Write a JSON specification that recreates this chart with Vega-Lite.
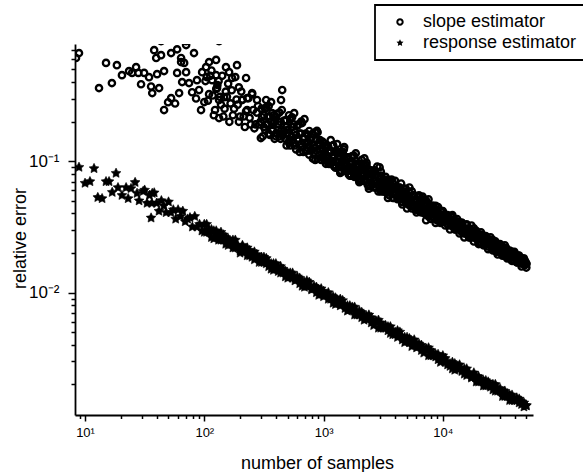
{
"$schema":"https://vega.github.io/schema/vega-lite/v6.json",
"width":458,"height":371,
"autosize":{"type":"none"},
"padding":{"left":75,"top":44,"right":50,"bottom":57},
"background":"white",
"datasets":{
"s":[
{"n":8.9,"e":0.665},{"n":8.4,"e":0.61},{"n":15,"e":0.56},{"n":13.1,"e":0.36},{"n":16.8,"e":0.393},{"n":18.5,"e":0.538},{"n":20.4,"e":0.452},{"n":23.4,"e":0.485},{"n":24.8,"e":0.47},{"n":26.8,"e":0.52},{"n":28,"e":0.47},{"n":31.3,"e":0.47},{"n":29.5,"e":0.385},{"n":34.4,"e":0.436},{"n":35.8,"e":0.37},{"n":36.6,"e":0.33},{"n":40.2,"e":0.46},{"n":41.8,"e":0.36},{"n":46,"e":0.485},{"n":46,"e":0.245},{"n":49.7,"e":0.281},{"n":52.7,"e":0.302},{"n":56.9,"e":0.275},{"n":59.2,"e":0.71},{"n":52.7,"e":0.665},{"n":38,"e":0.7},{"n":39.5,"e":0.61},{"n":43.4,"e":0.641},{"n":70.4,"e":0.765},{"n":82,"e":0.665},{"n":63.9,"e":0.61},{"n":67.8,"e":0.56},{"n":61.5,"e":0.33},{"n":59.2,"e":0.47},{"n":70.4,"e":0.476},{"n":74.5,"e":0.393},{"n":86.8,"e":0.414},{"n":90.4,"e":0.348},{"n":93.9,"e":0.245},{"n":85.3,"e":0.3},{"n":79,"e":0.335},{"n":65.2,"e":0.4},{"n":63.9,"e":0.568},{"n":43.4,"e":0.82},{"n":70.4,"e":0.82},{"n":133,"e":0.82},
{"n":95.9,"e":0.476},{"n":103.5,"e":0.52},{"n":109.7,"e":0.568},{"n":125.6,"e":0.59},{"n":116.2,"e":0.414},{"n":125.6,"e":0.452},{"n":128,"e":0.36},{"n":133,"e":0.292},{"n":133,"e":0.213},{"n":146.5,"e":0.307},{"n":152,"e":0.52},{"n":161.5,"e":0.476},{"n":171,"e":0.43},{"n":188,"e":0.538},{"n":195,"e":0.365},{"n":207.5,"e":0.292},{"n":224,"e":0.43},{"n":228.5,"e":0.245},{"n":252,"e":0.33},{"n":277,"e":0.292},{"n":305,"e":0.216},{"n":298,"e":0.15},{"n":330,"e":0.292},{"n":370,"e":0.232},{"n":400,"e":0.163},{"n":450,"e":0.348},{"n":440,"e":0.292},{"n":486,"e":0.205},{"n":516,"e":0.144},{"n":545,"e":0.216},
{"n":567,"e":0.232},{"n":650,"e":0.2},{"n":880,"e":0.17},{"n":1300,"e":0.135},{"n":1490,"e":0.128},{"n":1800,"e":0.11},{"n":2200,"e":0.105},{"n":2950,"e":0.09},
{"n":100,"e":0.282},{"n":104.7,"e":0.4365},{"n":109.6,"e":0.3236},{"n":114.8,"e":0.4898},{"n":120.2,"e":0.2239},{"n":125.9,"e":0.3548},{"n":131.8,"e":0.4074},{"n":138,"e":0.2692},{"n":144.5,"e":0.2188},{"n":151.4,"e":0.3388},{"n":158.5,"e":0.389},{"n":166,"e":0.2754},{"n":173.8,"e":0.2239},{"n":182,"e":0.4365},{"n":190.5,"e":0.2692},{"n":199.5,"e":0.2188},{"n":208.9,"e":0.2951},{"n":218.8,"e":0.182},{"n":229.1,"e":0.302},{"n":239.9,"e":0.2138},{"n":251.2,"e":0.3236},{"n":263,"e":0.1778},{"n":275.4,"e":0.2344},{"n":288.4,"e":0.1905},{"n":302,"e":0.2512},
{"n":102.3,"e":0.4074},{"n":107.2,"e":0.2884},{"n":112.2,"e":0.4467},{"n":117.5,"e":0.3162},{"n":123,"e":0.2455},{"n":128.8,"e":0.3802},{"n":134.9,"e":0.309},{"n":141.3,"e":0.4467},{"n":147.9,"e":0.2512},{"n":154.9,"e":0.309},{"n":162.2,"e":0.1995},{"n":169.8,"e":0.3467},{"n":177.8,"e":0.2512},{"n":186.2,"e":0.2951},{"n":195,"e":0.1995},{"n":204.2,"e":0.3388},{"n":213.8,"e":0.2188},{"n":223.9,"e":0.2399},{"n":234.4,"e":0.302},{"n":245.5,"e":0.1905},{"n":257,"e":0.2455},{"n":269.2,"e":0.1905},{"n":281.8,"e":0.263},{"n":295.1,"e":0.1995},{"n":309,"e":0.1549},
{"n":316.2,"e":0.2239},{"n":323.6,"e":0.1738},{"n":331.1,"e":0.257},{"n":338.8,"e":0.1905},{"n":346.7,"e":0.1622},{"n":354.8,"e":0.2188},{"n":363.1,"e":0.2818},{"n":371.5,"e":0.1738},{"n":380.2,"e":0.195},{"n":389,"e":0.1479},{"n":398.1,"e":0.2188},{"n":407.4,"e":0.1622},{"n":416.9,"e":0.1905},{"n":426.6,"e":0.2344},{"n":436.5,"e":0.1479},{"n":446.7,"e":0.1738},{"n":457.1,"e":0.1622},{"n":467.7,"e":0.2042},{"n":478.6,"e":0.1479},{"n":489.8,"e":0.182},{"n":501.2,"e":0.1622},{"n":512.9,"e":0.2239},{"n":524.8,"e":0.1318},{"n":537,"e":0.182},{"n":549.5,"e":0.1445},{"n":562.3,"e":0.1905},{"n":575.4,"e":0.1318},{"n":588.8,"e":0.1585},{"n":602.6,"e":0.1445},{"n":616.6,"e":0.1905},{"n":631,"e":0.1175},{"n":645.7,"e":0.1622},{"n":660.7,"e":0.1288},{"n":676.1,"e":0.1514},{"n":691.8,"e":0.2089},{"n":707.9,"e":0.1202},{"n":724.4,"e":0.138},{"n":741.3,"e":0.1585},{"n":758.6,"e":0.1122},{"n":776.2,"e":0.1445},{"n":794.3,"e":0.123},{"n":812.8,"e":0.1622},{"n":831.8,"e":0.1259},{"n":851.1,"e":0.1023},{"n":871,"e":0.1445},{"n":891.3,"e":0.166},{"n":912,"e":0.1122},{"n":933.3,"e":0.123},{"n":955,"e":0.1023},{"n":977.2,"e":0.1413},
{"n":1000,"e":0.123},{"n":1023,"e":0.1023},{"n":1047,"e":0.1318},{"n":1072,"e":0.1096},{"n":1096,"e":0.0955},{"n":1122,"e":0.1202},{"n":1148,"e":0.1445},{"n":1175,"e":0.1},{"n":1202,"e":0.1072},{"n":1230,"e":0.0912},{"n":1259,"e":0.1175},{"n":1288,"e":0.0977},{"n":1318,"e":0.1096},{"n":1349,"e":0.0912},{"n":1380,"e":0.1175},{"n":1413,"e":0.0832},{"n":1445,"e":0.1},{"n":1479,"e":0.123},{"n":1514,"e":0.0851},{"n":1549,"e":0.0977},{"n":1585,"e":0.0871},{"n":1622,"e":0.1047},{"n":1660,"e":0.0891},{"n":1698,"e":0.0776},{"n":1738,"e":0.0977},{"n":1778,"e":0.0871},{"n":1820,"e":0.0794},{"n":1862,"e":0.1148},{"n":1905,"e":0.0813},{"n":1950,"e":0.0933},{"n":1995,"e":0.0708},{"n":2042,"e":0.0871},{"n":2089,"e":0.0724},{"n":2138,"e":0.0813},{"n":2188,"e":0.0933},{"n":2239,"e":0.0724},{"n":2291,"e":0.0977},{"n":2344,"e":0.0661},{"n":2399,"e":0.0794},{"n":2455,"e":0.0724},{"n":2512,"e":0.0813},{"n":2570,"e":0.0661},{"n":2630,"e":0.0832},{"n":2692,"e":0.0708},{"n":2754,"e":0.0631},{"n":2818,"e":0.0912},{"n":2884,"e":0.0661},{"n":2951,"e":0.0724},{"n":3020,"e":0.0589},{"n":3090,"e":0.0676},
{"n":3162,"e":0.0676},{"n":3236,"e":0.0589},{"n":3311,"e":0.0692},{"n":3388,"e":0.0603},{"n":3467,"e":0.0708},{"n":3548,"e":0.055},{"n":3631,"e":0.0617},{"n":3715,"e":0.0724},{"n":3802,"e":0.0562},{"n":3890,"e":0.0617},{"n":3981,"e":0.0575},{"n":4074,"e":0.0631},{"n":4169,"e":0.0525},{"n":4266,"e":0.0575},{"n":4365,"e":0.0537},{"n":4467,"e":0.0676},{"n":4571,"e":0.049},{"n":4677,"e":0.0575},{"n":4786,"e":0.0537},{"n":4898,"e":0.049},{"n":5012,"e":0.055},{"n":5129,"e":0.0501},{"n":5248,"e":0.0575},{"n":5370,"e":0.0457},{"n":5495,"e":0.0589},{"n":5623,"e":0.0468},{"n":5754,"e":0.0501},{"n":5888,"e":0.0427},{"n":6026,"e":0.0513},{"n":6166,"e":0.0468},{"n":6310,"e":0.0437},{"n":6457,"e":0.0501},{"n":6607,"e":0.0447},{"n":6761,"e":0.0537},{"n":6918,"e":0.0407},{"n":7079,"e":0.0457},{"n":7244,"e":0.0417},{"n":7413,"e":0.0479},{"n":7586,"e":0.038},{"n":7762,"e":0.0427},{"n":7943,"e":0.0417},{"n":8128,"e":0.038},{"n":8318,"e":0.0437},{"n":8511,"e":0.0389},{"n":8710,"e":0.0457},{"n":8913,"e":0.0355},{"n":9120,"e":0.0407},{"n":9333,"e":0.0363},{"n":9550,"e":0.0417},{"n":9772,"e":0.0347},
{"n":10000,"e":0.038},{"n":10230,"e":0.0347},{"n":10470,"e":0.0389},{"n":10720,"e":0.0355},{"n":10960,"e":0.0331},{"n":11220,"e":0.0363},{"n":11480,"e":0.0339},{"n":11750,"e":0.038},{"n":12020,"e":0.0324},{"n":12300,"e":0.0339},{"n":12590,"e":0.0331},{"n":12880,"e":0.0302},{"n":13180,"e":0.0339},{"n":13490,"e":0.0309},{"n":13800,"e":0.0339},{"n":14130,"e":0.0295},{"n":14450,"e":0.0339},{"n":14790,"e":0.0302},{"n":15140,"e":0.0282},{"n":15490,"e":0.0302},{"n":15850,"e":0.0288},{"n":16220,"e":0.0302},{"n":16600,"e":0.0275},{"n":16980,"e":0.0302},{"n":17380,"e":0.0263},{"n":17780,"e":0.0275},{"n":18200,"e":0.0309},{"n":18620,"e":0.0263},{"n":19050,"e":0.0282},{"n":19500,"e":0.0251},{"n":19950,"e":0.0269},{"n":20420,"e":0.024},{"n":20890,"e":0.0275},{"n":21380,"e":0.0251},{"n":21880,"e":0.0245},{"n":22390,"e":0.0257},{"n":22910,"e":0.0234},{"n":23440,"e":0.0263},{"n":23990,"e":0.0224},{"n":24550,"e":0.024},{"n":25120,"e":0.0234},{"n":25700,"e":0.0219},{"n":26300,"e":0.0245},{"n":26920,"e":0.0219},{"n":27540,"e":0.0234},{"n":28180,"e":0.0204},{"n":28840,"e":0.0224},{"n":29510,"e":0.0214},{"n":30200,"e":0.0204},{"n":30900,"e":0.0224},{"n":31620,"e":0.0204},{"n":32360,"e":0.0214},{"n":33110,"e":0.0191},{"n":33880,"e":0.0204},{"n":34670,"e":0.02},{"n":35480,"e":0.0186},{"n":36310,"e":0.0204},{"n":37150,"e":0.0186},{"n":38020,"e":0.0204},{"n":38900,"e":0.0178},{"n":39810,"e":0.0191},{"n":40740,"e":0.0182},{"n":41690,"e":0.017},{"n":42660,"e":0.0186},{"n":43650,"e":0.0174},{"n":44670,"e":0.0178},{"n":45710,"e":0.0166},{"n":46770,"e":0.0178},{"n":47860,"e":0.017},{"n":48980,"e":0.0162},{"n":50120,"e":0.0166},
{"n":316.2,"e":0.182},{"n":323.6,"e":0.2512},{"n":331.1,"e":0.1905},{"n":338.8,"e":0.2188},{"n":346.7,"e":0.263},{"n":354.8,"e":0.1585},{"n":363.1,"e":0.1995},{"n":371.5,"e":0.1698},{"n":380.2,"e":0.2239},{"n":389,"e":0.1995},{"n":398.1,"e":0.1549},{"n":407.4,"e":0.2291},{"n":416.9,"e":0.1738},{"n":426.6,"e":0.1549},{"n":436.5,"e":0.1995},{"n":446.7,"e":0.2455},{"n":457.1,"e":0.1585},{"n":467.7,"e":0.1698},{"n":478.6,"e":0.2042},{"n":489.8,"e":0.1318},{"n":501.2,"e":0.1738},{"n":512.9,"e":0.138},{"n":524.8,"e":0.2089},{"n":537,"e":0.1549},{"n":549.5,"e":0.182},{"n":562.3,"e":0.138},{"n":575.4,"e":0.166},{"n":588.8,"e":0.123},{"n":602.6,"e":0.1862},{"n":616.6,"e":0.1479},{"n":631,"e":0.1622},{"n":645.7,"e":0.1349},{"n":660.7,"e":0.195},{"n":676.1,"e":0.1175},{"n":691.8,"e":0.138},{"n":707.9,"e":0.1622},{"n":724.4,"e":0.1202},{"n":741.3,"e":0.1413},{"n":758.6,"e":0.1698},{"n":776.2,"e":0.1202},{"n":794.3,"e":0.1514},{"n":812.8,"e":0.1047},{"n":831.8,"e":0.1318},{"n":851.1,"e":0.166},{"n":871,"e":0.1202},{"n":891.3,"e":0.1047},{"n":912,"e":0.138},{"n":933.3,"e":0.1445},{"n":955,"e":0.1072},{"n":977.2,"e":0.1259},
{"n":1000,"e":0.1072},{"n":1023,"e":0.1288},{"n":1047,"e":0.1122},{"n":1072,"e":0.1318},{"n":1096,"e":0.1175},{"n":1122,"e":0.0955},{"n":1148,"e":0.1175},{"n":1175,"e":0.1},{"n":1202,"e":0.1318},{"n":1230,"e":0.1072},{"n":1259,"e":0.0933},{"n":1288,"e":0.1175},{"n":1318,"e":0.0977},{"n":1349,"e":0.1096},{"n":1380,"e":0.0851},{"n":1413,"e":0.0977},{"n":1445,"e":0.1175},{"n":1479,"e":0.0871},{"n":1514,"e":0.1023},{"n":1549,"e":0.0912},{"n":1585,"e":0.1072},{"n":1622,"e":0.0794},{"n":1660,"e":0.0955},{"n":1698,"e":0.1},{"n":1738,"e":0.0832},{"n":1778,"e":0.0891},{"n":1820,"e":0.0776},{"n":1862,"e":0.1},{"n":1905,"e":0.0851},{"n":1950,"e":0.0794},{"n":1995,"e":0.0912},{"n":2042,"e":0.0708},{"n":2089,"e":0.1023},{"n":2138,"e":0.0776},{"n":2188,"e":0.0851},{"n":2239,"e":0.0708},{"n":2291,"e":0.0813},{"n":2344,"e":0.0871},{"n":2399,"e":0.0646},{"n":2455,"e":0.0759},{"n":2512,"e":0.0692},{"n":2570,"e":0.0813},{"n":2630,"e":0.0708},{"n":2692,"e":0.0851},{"n":2754,"e":0.0631},{"n":2818,"e":0.0692},{"n":2884,"e":0.0759},{"n":2951,"e":0.0646},{"n":3020,"e":0.0776},{"n":3090,"e":0.0603},
{"n":3162,"e":0.0708},{"n":3236,"e":0.0617},{"n":3311,"e":0.0724},{"n":3388,"e":0.0575},{"n":3467,"e":0.0646},{"n":3548,"e":0.0676},{"n":3631,"e":0.0575},{"n":3715,"e":0.0603},{"n":3802,"e":0.0692},{"n":3890,"e":0.0525},{"n":3981,"e":0.0617},{"n":4074,"e":0.0562},{"n":4169,"e":0.0617},{"n":4266,"e":0.0631},{"n":4365,"e":0.0513},{"n":4467,"e":0.055},{"n":4571,"e":0.0525},{"n":4677,"e":0.0589},{"n":4786,"e":0.0501},{"n":4898,"e":0.0617},{"n":5012,"e":0.0537},{"n":5129,"e":0.0468},{"n":5248,"e":0.0537},{"n":5370,"e":0.0501},{"n":5495,"e":0.049},{"n":5623,"e":0.055},{"n":5754,"e":0.0457},{"n":5888,"e":0.0513},{"n":6026,"e":0.0457},{"n":6166,"e":0.0537},{"n":6310,"e":0.0417},{"n":6457,"e":0.0468},{"n":6607,"e":0.0501},{"n":6761,"e":0.0437},{"n":6918,"e":0.0468},{"n":7079,"e":0.0398},{"n":7244,"e":0.0501},{"n":7413,"e":0.0427},{"n":7586,"e":0.0398},{"n":7762,"e":0.0447},{"n":7943,"e":0.0398},{"n":8128,"e":0.0457},{"n":8318,"e":0.0372},{"n":8511,"e":0.0407},{"n":8710,"e":0.0398},{"n":8913,"e":0.0427},{"n":9120,"e":0.0363},{"n":9333,"e":0.0398},{"n":9550,"e":0.0372},{"n":9772,"e":0.0417},
{"n":10000,"e":0.0355},{"n":10230,"e":0.0389},{"n":10470,"e":0.0355},{"n":10720,"e":0.0389},{"n":10960,"e":0.0363},{"n":11220,"e":0.0324},{"n":11480,"e":0.0363},{"n":11750,"e":0.0339},{"n":12020,"e":0.0372},{"n":12300,"e":0.0316},{"n":12590,"e":0.0355},{"n":12880,"e":0.0331},{"n":13180,"e":0.0309},{"n":13490,"e":0.0347},{"n":13800,"e":0.0309},{"n":14130,"e":0.0331},{"n":14450,"e":0.0288},{"n":14790,"e":0.0316},{"n":15140,"e":0.0309},{"n":15490,"e":0.0282},{"n":15850,"e":0.0324},{"n":16220,"e":0.0282},{"n":16600,"e":0.0309},{"n":16980,"e":0.0263},{"n":17380,"e":0.0288},{"n":17780,"e":0.0288},{"n":18200,"e":0.0263},{"n":18620,"e":0.0295},{"n":19050,"e":0.0269},{"n":19500,"e":0.0282},{"n":19950,"e":0.0257},{"n":20420,"e":0.0269},{"n":20890,"e":0.024},{"n":21380,"e":0.0275},{"n":21880,"e":0.0257},{"n":22390,"e":0.0234},{"n":22910,"e":0.0263},{"n":23440,"e":0.024},{"n":23990,"e":0.0234},{"n":24550,"e":0.0251},{"n":25120,"e":0.0245},{"n":25700,"e":0.0219},{"n":26300,"e":0.0251},{"n":26920,"e":0.0229},{"n":27540,"e":0.0209},{"n":28180,"e":0.0229},{"n":28840,"e":0.0219},{"n":29510,"e":0.0229},{"n":30200,"e":0.0209},{"n":30900,"e":0.0219},{"n":31620,"e":0.0224},{"n":32360,"e":0.0195},{"n":33110,"e":0.0209},{"n":33880,"e":0.0219},{"n":34670,"e":0.0186},{"n":35480,"e":0.0204},{"n":36310,"e":0.0191},{"n":37150,"e":0.0204},{"n":38020,"e":0.0191},{"n":38900,"e":0.0178},{"n":39810,"e":0.0195},{"n":40740,"e":0.0186},{"n":41690,"e":0.0174},{"n":42660,"e":0.0191},{"n":43650,"e":0.0178},{"n":44670,"e":0.017},{"n":45710,"e":0.0182},{"n":46770,"e":0.0174},{"n":47860,"e":0.0166},{"n":48980,"e":0.0174},{"n":50120,"e":0.0166},
{"n":1000,"e":0.138},{"n":1047,"e":0.0955},{"n":1096,"e":0.1288},{"n":1148,"e":0.0955},{"n":1202,"e":0.1318},{"n":1259,"e":0.0891},{"n":1318,"e":0.1148},{"n":1380,"e":0.0813},{"n":1445,"e":0.1175},{"n":1514,"e":0.0851},{"n":1585,"e":0.1072},{"n":1660,"e":0.0776},{"n":1738,"e":0.1096},{"n":1820,"e":0.0759},{"n":1905,"e":0.0955},{"n":1995,"e":0.0692},{"n":2089,"e":0.0955},{"n":2188,"e":0.0708},{"n":2291,"e":0.0933},{"n":2399,"e":0.0617},{"n":2512,"e":0.0851},{"n":2630,"e":0.0631},{"n":2754,"e":0.0794},{"n":2884,"e":0.0589},{"n":3020,"e":0.0832},{"n":3162,"e":0.0589},{"n":3311,"e":0.0759},{"n":3467,"e":0.0525},{"n":3631,"e":0.0708},{"n":3802,"e":0.0525},{"n":3981,"e":0.0708},{"n":4169,"e":0.0513},{"n":4365,"e":0.0631},{"n":4571,"e":0.0468},{"n":4786,"e":0.0617},{"n":5012,"e":0.0437},{"n":5248,"e":0.0631},{"n":5495,"e":0.0437},{"n":5754,"e":0.055},{"n":6026,"e":0.0407},{"n":6310,"e":0.055},{"n":6607,"e":0.0407},{"n":6918,"e":0.0513},{"n":7244,"e":0.0355},{"n":7586,"e":0.0513},{"n":7943,"e":0.0363},{"n":8318,"e":0.0457},{"n":8710,"e":0.0339},{"n":9120,"e":0.0447},{"n":9550,"e":0.0339},
{"n":10000,"e":0.0417},{"n":10470,"e":0.0324},{"n":10960,"e":0.0389},{"n":11480,"e":0.0302},{"n":12020,"e":0.0389},{"n":12590,"e":0.0302},{"n":13180,"e":0.0363},{"n":13800,"e":0.0282},{"n":14450,"e":0.0339},{"n":15140,"e":0.0263},{"n":15850,"e":0.0331},{"n":16600,"e":0.0263},{"n":17380,"e":0.0324},{"n":18200,"e":0.0245},{"n":19050,"e":0.0295},{"n":19950,"e":0.0234},{"n":20890,"e":0.0288},{"n":21880,"e":0.0229},{"n":22910,"e":0.0269},{"n":23990,"e":0.0214},{"n":25120,"e":0.0263},{"n":26300,"e":0.0209},{"n":27540,"e":0.0245},{"n":28840,"e":0.0195},{"n":30200,"e":0.0234},{"n":31620,"e":0.0191},{"n":33110,"e":0.0229},{"n":34670,"e":0.0182},{"n":36310,"e":0.0209},{"n":38020,"e":0.0174},{"n":39810,"e":0.0204},{"n":41690,"e":0.017},{"n":43650,"e":0.0191},{"n":45710,"e":0.0158},{"n":47860,"e":0.0182},{"n":50120,"e":0.0155}
],
"r":[
{"n":8.9,"e":0.09},{"n":11.9,"e":0.088},{"n":10,"e":0.068},{"n":11,"e":0.07},{"n":15,"e":0.07},{"n":15.9,"e":0.07},{"n":18.2,"e":0.081},{"n":12.8,"e":0.053},{"n":13.9,"e":0.052},{"n":16.9,"e":0.058},{"n":18.9,"e":0.063},{"n":20.4,"e":0.055},{"n":22.1,"e":0.063},{"n":23,"e":0.052},{"n":24.3,"e":0.062},{"n":26.3,"e":0.069},{"n":27.3,"e":0.057},{"n":28.4,"e":0.05},{"n":30.7,"e":0.059},{"n":35.8,"e":0.037},{"n":36.6,"e":0.057},
{"n":31.62,"e":0.0603},{"n":33.11,"e":0.0479},{"n":34.67,"e":0.055},{"n":36.31,"e":0.0479},{"n":38.02,"e":0.0575},{"n":39.81,"e":0.0479},{"n":41.69,"e":0.0417},{"n":43.65,"e":0.0501},{"n":45.71,"e":0.0457},{"n":47.86,"e":0.0407},{"n":50.12,"e":0.049},{"n":52.48,"e":0.0407},{"n":54.95,"e":0.0427},{"n":57.54,"e":0.0363},{"n":60.26,"e":0.0427},{"n":63.1,"e":0.038},{"n":66.07,"e":0.0417},{"n":69.18,"e":0.0347},{"n":72.44,"e":0.0363},{"n":75.86,"e":0.0372},{"n":79.43,"e":0.0316},{"n":83.18,"e":0.038},{"n":87.1,"e":0.0316},{"n":91.2,"e":0.0331},{"n":95.5,"e":0.0295},
{"n":100,"e":0.0331},{"n":104.7,"e":0.0288},{"n":109.6,"e":0.0302},{"n":114.8,"e":0.0263},{"n":120.2,"e":0.0295},{"n":125.9,"e":0.0275},{"n":131.8,"e":0.0251},{"n":138,"e":0.0288},{"n":144.5,"e":0.0251},{"n":151.4,"e":0.0263},{"n":158.5,"e":0.0229},{"n":166,"e":0.0245},{"n":173.8,"e":0.0251},{"n":182,"e":0.0219},{"n":190.5,"e":0.0224},{"n":199.5,"e":0.02},{"n":208.9,"e":0.0224},{"n":218.8,"e":0.0204},{"n":229.1,"e":0.0219},{"n":239.9,"e":0.0191},{"n":251.2,"e":0.02},{"n":263,"e":0.0178},{"n":275.4,"e":0.0195},{"n":288.4,"e":0.0182},{"n":302,"e":0.017},{"n":316.2,"e":0.0186},{"n":331.1,"e":0.0166},{"n":346.7,"e":0.017},{"n":363.1,"e":0.0151},{"n":380.2,"e":0.0166},{"n":398.1,"e":0.0155},{"n":416.9,"e":0.0145},{"n":436.5,"e":0.0158},{"n":457.1,"e":0.0141},{"n":478.6,"e":0.0145},{"n":501.2,"e":0.0129},{"n":524.8,"e":0.0141},{"n":549.5,"e":0.0129},{"n":575.4,"e":0.0129},{"n":602.6,"e":0.0132},{"n":631,"e":0.0117},{"n":660.7,"e":0.0123},{"n":691.8,"e":0.011},{"n":724.4,"e":0.0123},{"n":758.6,"e":0.0112},{"n":794.3,"e":0.0107},{"n":831.8,"e":0.0112},{"n":871,"e":0.01},{"n":912,"e":0.0105},{"n":955,"e":0.00977},
{"n":1000,"e":0.0102},{"n":1047,"e":0.00955},{"n":1096,"e":0.00891},{"n":1148,"e":0.00933},{"n":1202,"e":0.00832},{"n":1259,"e":0.00912},{"n":1318,"e":0.00832},{"n":1380,"e":0.00891},{"n":1445,"e":0.00813},{"n":1514,"e":0.00759},{"n":1585,"e":0.00794},{"n":1660,"e":0.00741},{"n":1738,"e":0.00776},{"n":1820,"e":0.00676},{"n":1905,"e":0.00708},{"n":1995,"e":0.00724},{"n":2089,"e":0.00646},{"n":2188,"e":0.00676},{"n":2291,"e":0.00631},{"n":2399,"e":0.00676},{"n":2512,"e":0.00589},{"n":2630,"e":0.00603},{"n":2754,"e":0.00603},{"n":2884,"e":0.00537},{"n":3020,"e":0.00589},{"n":3162,"e":0.00537},{"n":3311,"e":0.00537},{"n":3467,"e":0.0055},{"n":3631,"e":0.0049},{"n":3802,"e":0.00513},{"n":3981,"e":0.00479},{"n":4169,"e":0.00513},{"n":4365,"e":0.00468},{"n":4571,"e":0.00437},{"n":4786,"e":0.00457},{"n":5012,"e":0.00427},{"n":5248,"e":0.00447},{"n":5495,"e":0.00389},{"n":5754,"e":0.00407},{"n":6026,"e":0.00407},{"n":6310,"e":0.00407},{"n":6607,"e":0.00363},{"n":6918,"e":0.00372},{"n":7244,"e":0.00372},{"n":7586,"e":0.00331},{"n":7943,"e":0.00363},{"n":8318,"e":0.00331},{"n":8710,"e":0.00339},{"n":9120,"e":0.00309},{"n":9550,"e":0.00316},
{"n":10000,"e":0.00331},{"n":10470,"e":0.00295},{"n":10960,"e":0.00295},{"n":11480,"e":0.00275},{"n":12020,"e":0.00295},{"n":12590,"e":0.00257},{"n":13180,"e":0.00275},{"n":13800,"e":0.00263},{"n":14450,"e":0.00251},{"n":15140,"e":0.00263},{"n":15850,"e":0.00234},{"n":16600,"e":0.00245},{"n":17380,"e":0.00229},{"n":18200,"e":0.00245},{"n":19050,"e":0.00224},{"n":19950,"e":0.00209},{"n":20890,"e":0.00219},{"n":21880,"e":0.00195},{"n":22910,"e":0.00214},{"n":23990,"e":0.002},{"n":25120,"e":0.00191},{"n":26300,"e":0.002},{"n":27540,"e":0.00178},{"n":28840,"e":0.00186},{"n":30200,"e":0.00178},{"n":31620,"e":0.00162},{"n":33110,"e":0.00178},{"n":34670,"e":0.00162},{"n":36310,"e":0.00166},{"n":38020,"e":0.00151},{"n":39810,"e":0.00155},{"n":41690,"e":0.00158},{"n":43650,"e":0.00145},{"n":45710,"e":0.00148},{"n":47860,"e":0.00135},{"n":50120,"e":0.00138},
{"n":100,"e":0.0288},{"n":104.7,"e":0.0331},{"n":109.6,"e":0.0288},{"n":114.8,"e":0.0302},{"n":120.2,"e":0.0257},{"n":125.9,"e":0.0295},{"n":131.8,"e":0.0275},{"n":138,"e":0.0251},{"n":144.5,"e":0.0275},{"n":151.4,"e":0.0234},{"n":158.5,"e":0.0257},{"n":166,"e":0.0234},{"n":173.8,"e":0.0219},{"n":182,"e":0.0251},{"n":190.5,"e":0.0229},{"n":199.5,"e":0.0209},{"n":208.9,"e":0.0229},{"n":218.8,"e":0.0209},{"n":229.1,"e":0.0191},{"n":239.9,"e":0.0209},{"n":251.2,"e":0.0186},{"n":263,"e":0.0204},{"n":275.4,"e":0.0186},{"n":288.4,"e":0.017},{"n":302,"e":0.0186},{"n":316.2,"e":0.017},{"n":331.1,"e":0.0182},{"n":346.7,"e":0.0158},{"n":363.1,"e":0.0166},{"n":380.2,"e":0.0148},{"n":398.1,"e":0.0166},{"n":416.9,"e":0.0155},{"n":436.5,"e":0.0141},{"n":457.1,"e":0.0151},{"n":478.6,"e":0.0132},{"n":501.2,"e":0.0141},{"n":524.8,"e":0.0132},{"n":549.5,"e":0.0141},{"n":575.4,"e":0.0123},{"n":602.6,"e":0.0126},{"n":631,"e":0.0129},{"n":660.7,"e":0.0112},{"n":691.8,"e":0.012},{"n":724.4,"e":0.0112},{"n":758.6,"e":0.012},{"n":794.3,"e":0.0105},{"n":831.8,"e":0.0107},{"n":871,"e":0.011},{"n":912,"e":0.00955},{"n":955,"e":0.0107},
{"n":1000,"e":0.00933},{"n":1047,"e":0.00977},{"n":1096,"e":0.01},{"n":1148,"e":0.00891},{"n":1202,"e":0.00933},{"n":1259,"e":0.00813},{"n":1318,"e":0.00871},{"n":1380,"e":0.00794},{"n":1445,"e":0.00871},{"n":1514,"e":0.00794},{"n":1585,"e":0.00724},{"n":1660,"e":0.00794},{"n":1738,"e":0.00741},{"n":1820,"e":0.00776},{"n":1905,"e":0.00676},{"n":1995,"e":0.00676},{"n":2089,"e":0.00708},{"n":2188,"e":0.00617},{"n":2291,"e":0.00661},{"n":2399,"e":0.00631},{"n":2512,"e":0.00646},{"n":2630,"e":0.00562},{"n":2754,"e":0.00603},{"n":2884,"e":0.00617},{"n":3020,"e":0.00537},{"n":3162,"e":0.0055},{"n":3311,"e":0.00562},{"n":3467,"e":0.00513},{"n":3631,"e":0.0055},{"n":3802,"e":0.00479},{"n":3981,"e":0.00501},{"n":4169,"e":0.00457},{"n":4365,"e":0.00501},{"n":4571,"e":0.00457},{"n":4786,"e":0.00417},{"n":5012,"e":0.00457},{"n":5248,"e":0.00417},{"n":5495,"e":0.00427},{"n":5754,"e":0.00437},{"n":6026,"e":0.0038},{"n":6310,"e":0.00389},{"n":6607,"e":0.00398},{"n":6918,"e":0.00347},{"n":7244,"e":0.00372},{"n":7586,"e":0.0038},{"n":7943,"e":0.00331},{"n":8318,"e":0.00347},{"n":8710,"e":0.00324},{"n":9120,"e":0.00339},{"n":9550,"e":0.00295},
{"n":10000,"e":0.00316},{"n":10470,"e":0.00316},{"n":10960,"e":0.00282},{"n":11480,"e":0.00288},{"n":12020,"e":0.00263},{"n":12590,"e":0.00288},{"n":13180,"e":0.00263},{"n":13800,"e":0.00282},{"n":14450,"e":0.00257},{"n":15140,"e":0.0024},{"n":15850,"e":0.00263},{"n":16600,"e":0.0024},{"n":17380,"e":0.00224},{"n":18200,"e":0.00234},{"n":19050,"e":0.00209},{"n":19950,"e":0.00229},{"n":20890,"e":0.00214},{"n":21880,"e":0.00214},{"n":22910,"e":0.00195},{"n":23990,"e":0.00209},{"n":25120,"e":0.00195},{"n":26300,"e":0.00182},{"n":27540,"e":0.002},{"n":28840,"e":0.00178},{"n":30200,"e":0.00186},{"n":31620,"e":0.00174},{"n":33110,"e":0.00162},{"n":34670,"e":0.0017},{"n":36310,"e":0.00151},{"n":38020,"e":0.00166},{"n":39810,"e":0.00151},{"n":41690,"e":0.00151},{"n":43650,"e":0.00155},{"n":45710,"e":0.00141},{"n":47860,"e":0.00145},{"n":50120,"e":0.00138}
]
},
"encoding":{
"x":{"field":"n","type":"quantitative",
 "scale":{"type":"log","domain":[8.24,57000],"nice":false},
 "axis":{"title":"number of samples","values":[9,10,20,30,40,50,60,70,80,90,100,200,300,400,500,600,700,800,900,1000,2000,3000,4000,5000,6000,7000,8000,9000,10000,20000,30000,40000,50000],
  "labelExpr":"datum.value==10?'10¹':datum.value==100?'10²':datum.value==1000?'10³':datum.value==10000?'10⁴':''",
  "tickSize":{"condition":{"test":"indexof([10,100,1000,10000],datum.value)>=0","value":6},"value":3.5},
  "labelFontSize":13,"labelPadding":5,"labelFlush":false,"labelOverlap":false,
  "titleX":242,"titleY":53.5,"titleAlign":"center","titleBaseline":"alphabetic"}},
"y":{"field":"e","type":"quantitative",
 "scale":{"type":"log","domain":[0.00117,0.78],"nice":false},
 "axis":{"title":"relative error","values":[0.002,0.003,0.004,0.005,0.006,0.007,0.008,0.009,0.01,0.02,0.03,0.04,0.05,0.06,0.07,0.08,0.09,0.1,0.2,0.3,0.4,0.5,0.6,0.7],
  "labelExpr":"datum.value==0.01?'10⁻²':datum.value==0.1?'10⁻¹':''",
  "tickSize":{"condition":{"test":"datum.value==0.01||datum.value==0.1","value":7},"value":4},
  "labelFontSize":17,"labelPadding":9,"labelFlush":false,"labelOverlap":false,
  "titleX":-50,"titleY":194,"titleAngle":-90,"titleAlign":"center","titleBaseline":"alphabetic"}},
"shape":{"type":"nominal","scale":{"domain":["slope estimator","response estimator"],"range":["M1,0A1,1,0,1,1,-1,0A1,1,0,1,1,1,0ZM0.45,0A0.45,0.45,0,1,0,-0.45,0A0.45,0.45,0,1,0,0.45,0Z","M0,-1L0.294,-0.405L0.951,-0.309L0.476,0.155L0.588,0.809L0,0.5L-0.588,0.809L-0.476,0.155L-0.951,-0.309L-0.294,-0.405Z"]},"legend":{"title":null}}
},
"layer":[
{"data":{"name":"s"},
 "mark":{"type":"point","filled":true,"color":"black","size":75,"strokeWidth":0,"opacity":1,"clip":true},
 "encoding":{"shape":{"datum":"slope estimator","type":"nominal","legend":{"title":null}}}},
{"data":{"name":"r"},
 "mark":{"type":"point","filled":true,"color":"black","size":105,"strokeWidth":0.6,"stroke":"black","opacity":1,"clip":true},
 "encoding":{"shape":{"datum":"response estimator","type":"nominal","legend":{"title":null}}}}
],
"config":{
 "view":{"stroke":null},
 "font":"Liberation Sans",
 "axis":{"grid":false,"domainColor":"black","domainWidth":1.8,"tickColor":"black","tickWidth":1.5,"labelColor":"black","labelFont":"Liberation Sans","titleColor":"black","titleFont":"Liberation Sans","titleFontSize":18,"titleFontWeight":"normal"},
 "legend":{"orient":"none","legendX":300,"legendY":-39,"gridAlign":"none","strokeColor":"black","strokeWidth":1.8,"fillColor":"white","padding":8,"labelFont":"Liberation Sans","labelFontSize":18,"labelColor":"black","symbolSize":55,"symbolFillColor":"black","symbolStrokeWidth":0,"rowPadding":3,"labelOffset":14,"symbolOffset":8}
}
}
